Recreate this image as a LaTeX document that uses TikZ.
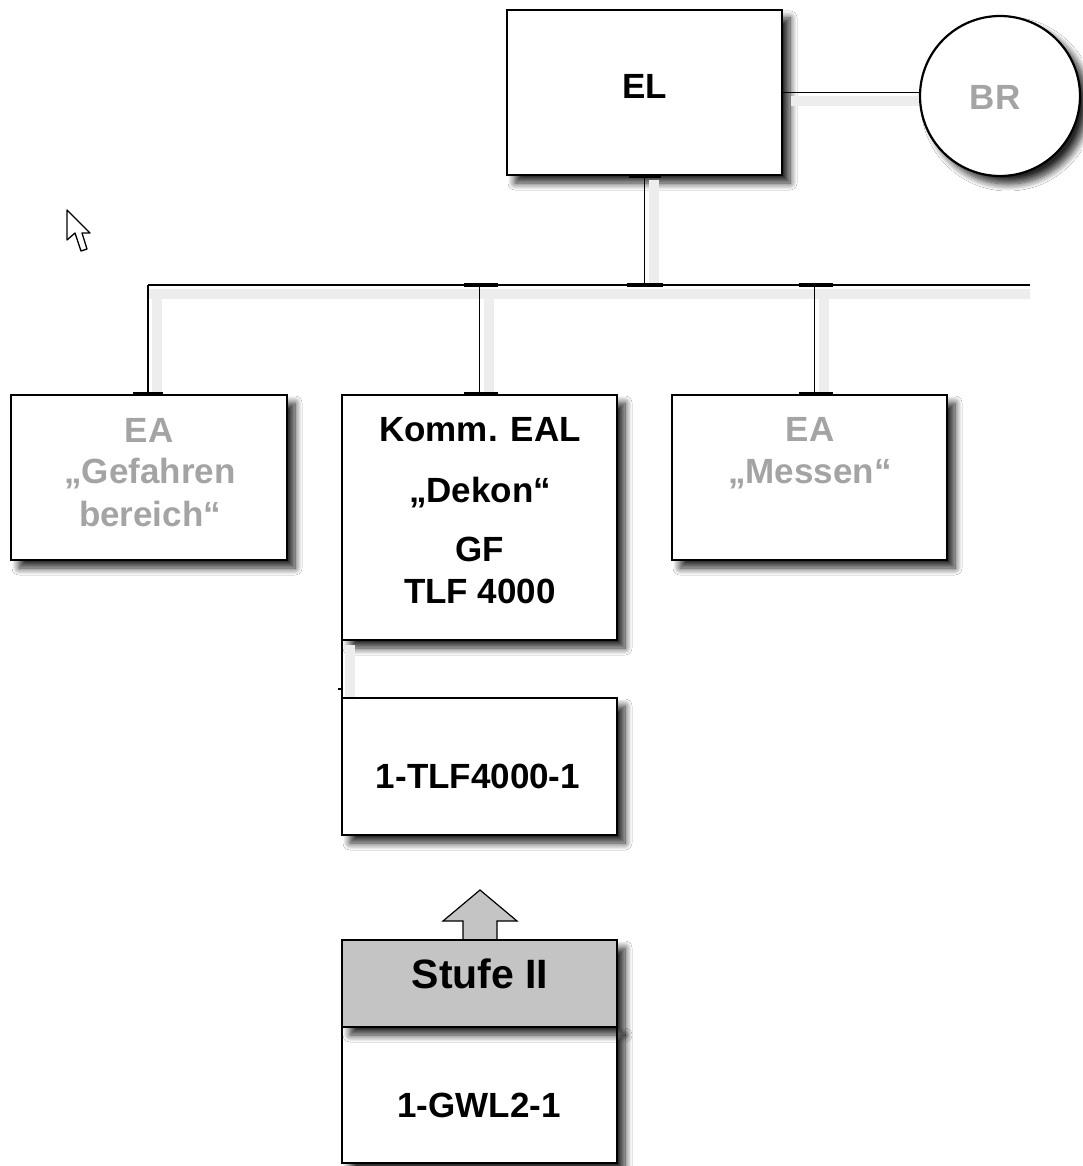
\documentclass[tikz,border=0pt]{standalone}
\usepackage{fontspec}
\setmainfont{Liberation Sans}
\usetikzlibrary{shadows.blur}
\definecolor{ghostgray}{HTML}{A4A4A4}
\definecolor{stufegray}{HTML}{C4C4C4}
\begin{document}
\begin{tikzpicture}[x=1pt,y=-1pt,
  bshadow/.style={blur shadow={shadow xshift=8pt, shadow yshift=-8pt, shadow blur radius=7pt, shadow blur steps=10, shadow opacity=85}},
  box/.style={draw=black, line width=2.2pt, fill=white, rectangle, inner sep=0pt, bshadow},
  txt/.style={font=\fontsize{35}{42}\selectfont\bfseries, inner sep=0pt, anchor=base},
  ghost/.style={txt, text=ghostgray},
  wire/.style={line width=1.8pt},
  wshadow/.style={line width=10pt, draw=black!7},
  tab/.style={line width=4.5pt}
]
\useasboundingbox[fill=white] (0,0) rectangle (1082,1166);

% boxes
\node[box, minimum width=275pt, minimum height=165pt] (EL) at (644.5,92.5) {};
\node[box, circle, minimum size=160pt] (BR) at (1000,96) {};
\node[box, minimum width=276pt, minimum height=165pt] (EAG) at (149,477.5) {};
\node[box, minimum width=275pt, minimum height=245pt] (KOMM) at (479.5,517.5) {};
\node[box, minimum width=275pt, minimum height=165pt] (EAM) at (809.5,477.5) {};
\node[box, minimum width=275pt, minimum height=137pt] (TLF) at (479.5,766.5) {};
\node[box, minimum width=275pt, minimum height=136pt] (GWL) at (479.5,1095) {};

% block arrow
\draw[line width=1.2pt, fill=stufegray] (480,890) -- (517,921) -- (497,921) -- (497,942)
  -- (463,942) -- (463,921) -- (443,921) -- cycle;
\node[box, fill=stufegray, minimum width=275pt, minimum height=87pt] (STUFE) at (479.5,983.5) {};

% bus coordinates
\coordinate (busL) at (148,285);
\coordinate (busR) at (1030,285);

% wire shadows
\begin{scope}[wshadow]
  \draw ([shift={(8,9)}]EL.east) -- ([shift={(0,9)}]EL.east -| BR.west);
  \draw ([shift={(9,4)}]EL.south) -- ([shift={(9,0)}]EL.south |- busL);
  \draw ([shift={(0,9)}]busL) -- ([shift={(0,9)}]busR);
  \draw ([shift={(9,9)}]busL) -- ([shift={(9,0)}]EAG.north -| busL);
  \draw ([shift={(9,9)}]KOMM.north |- busL) -- ([shift={(9,0)}]KOMM.north);
  \draw ([shift={(14,9)}]EAM.north |- busL) -- ([shift={(14,0)}]EAM.north);
  \draw ([shift={(9,4)}]KOMM.south west) -- ([shift={(9,0)}]TLF.north west);
\end{scope}

% wires
\draw[wire] (EL.east) -- (EL.east -| BR.west);
\draw[wire] (EL.south) -- (EL.south |- busL);
\draw[wire] (busL) -- (busR);
\draw[wire] (busL) -- (EAG.north -| busL);
\draw[wire] (KOMM.north |- busL) -- (KOMM.north);
\draw[wire] ([xshift=5pt]EAM.north |- busL) -- ([xshift=5pt]EAM.north);
\draw[wire] ([xshift=1pt]KOMM.south west) -- ([xshift=1pt]TLF.north west);
\draw[line width=1.2pt] ([shift={(-3,-8)}]TLF.north west) -- ([shift={(2,-8)}]TLF.north west);

% tabs
\draw[tab] ([xshift=-16pt]EL.south) -- ([xshift=16pt]EL.south);
\draw[tab] ([xshift=-18pt]EL.south |- busL) -- ([xshift=18pt]EL.south |- busL);
\draw[tab] ([xshift=-16pt]KOMM.north |- busL) -- ([xshift=18pt]KOMM.north |- busL);
\draw[tab] ([xshift=-11pt]EAM.north |- busL) -- ([xshift=23pt]EAM.north |- busL);
\draw[tab] ([xshift=-15pt]EAG.north -| busL) -- ([xshift=15pt]EAG.north -| busL);
\draw[tab] ([xshift=-16pt]KOMM.north) -- ([xshift=18pt]KOMM.north);
\draw[tab] ([xshift=-11pt]EAM.north) -- ([xshift=23pt]EAM.north);

% texts
\node[txt] (tEL) at (645,99) {EL};
\node[ghost] (tBR) at (995,110) {BR};
\node[ghost] (tEAG1) at (149,442) {EA};
\node[ghost] (tEAG2) at (150,483) {„Gefahren};
\node[ghost] (tEAG3) at (150,526) {bereich“};
\node[txt] (tK1) at (480,441) {Komm. EAL};
\node[txt] (tK2) at (480,502) {„Dekon“};
\node[txt] (tK3) at (480,561) {GF};
\node[txt] (tK4) at (480,603) {TLF 4000};
\node[ghost] (tEAM1) at (810,441) {EA};
\node[ghost] (tEAM2) at (810,483) {„Messen“};
\node[txt] (tTLF) at (478,788) {1-TLF4000-1};
\node[txt, font=\fontsize{41}{48}\selectfont\bfseries] (tSTUFE) at (480,988) {Stufe II};
\node[txt] (tGWL) at (479,1117) {1-GWL2-1};

% mouse cursor
\draw[line width=1.3pt, fill=white, line join=round] (67,210) -- (67,240) -- (75,233) -- (81,251)
  -- (87,249) -- (82,233) -- (90,233) -- cycle;
\end{tikzpicture}
\end{document}
